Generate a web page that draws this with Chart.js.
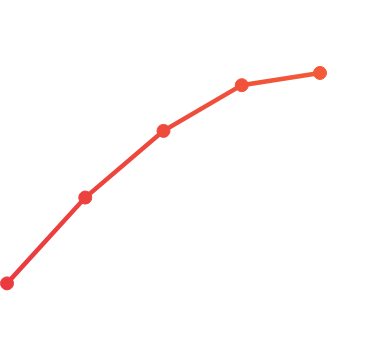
<!DOCTYPE html>
<html>
<head>
<meta charset="utf-8">
<script src="https://cdn.jsdelivr.net/npm/chart.js@4"></script>
<style>
  html, body { margin: 0; padding: 0; background: #fff; }
  #wrap { width: 367px; height: 349px; position: relative; }
</style>
</head>
<body>
<div id="wrap"><canvas id="lineChart"></canvas></div>
<script>
var labels = ['1', '2', '3', '4', '5'];
var values = [18.8, 43.4, 62.5, 75.6, 79.1];

function makeGradient(ctx, area) {
    var g = ctx.createLinearGradient(area.left, 0, area.right, 0);
    g.addColorStop(0, '#ea3a40');
    g.addColorStop(1, '#f35a38');
    return g;
}

function strokeColor(context) {
    var chart = context.chart;
    if (!chart.chartArea) {
        return '#ef4b3c';
    }
    return makeGradient(chart.ctx, chart.chartArea);
}

var ctx = document.getElementById('lineChart').getContext('2d');
var chart = new Chart(ctx, {
    type: 'line',
    data: {
        labels: labels,
        datasets: [{
            data: values,
            borderColor: strokeColor,
            backgroundColor: strokeColor,
            pointBackgroundColor: strokeColor,
            pointBorderColor: strokeColor,
            borderWidth: 4.5,
            pointRadius: 6.5,
            pointBorderWidth: 1,
            tension: 0,
            fill: false
        }]
    },
    options: {
        responsive: true,
        maintainAspectRatio: false,
        animation: false,
        layout: {
            autoPadding: false,
            padding: { left: 7, right: 47, top: 0, bottom: 0 }
        },
        plugins: {
            legend: { display: false },
            tooltip: { enabled: false }
        },
        scales: {
            x: { display: false },
            y: { display: false, min: 0, max: 100 }
        }
    }
});
</script>
</body>
</html>
